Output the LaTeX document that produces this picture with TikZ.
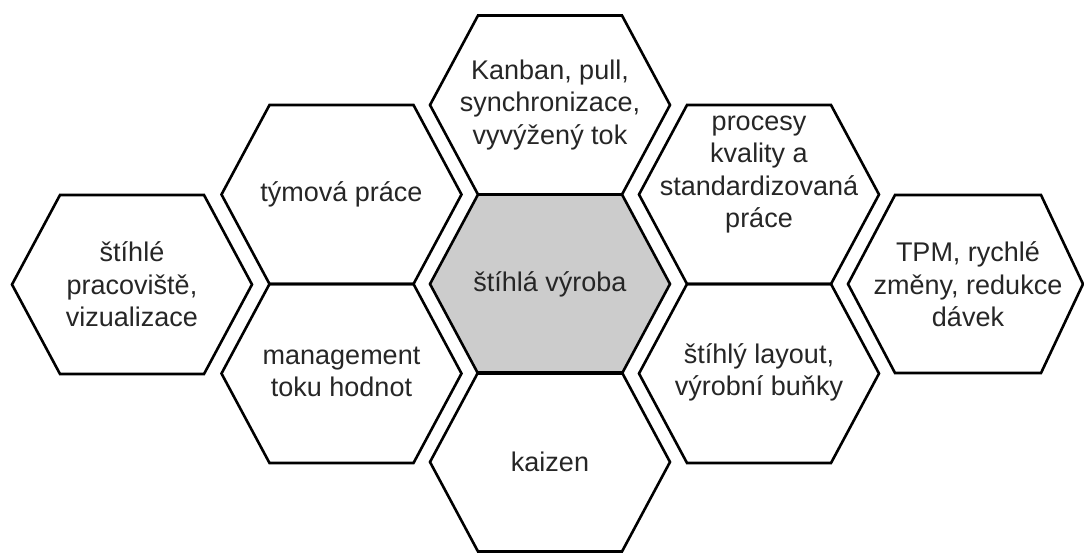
\documentclass[tikz,border=0pt]{standalone}
\usepackage{fontspec}
\setmainfont{Liberation Sans}
\definecolor{hexgray}{HTML}{CCCCCC}
\definecolor{txtcol}{HTML}{262626}
\tikzset{
  hexline/.style={draw=black, line width=2.6pt, line join=miter},
  hexfill/.style={},
  pics/hex/.style={code={
    \path[hexline, hexfill] (-120,0) -- (-72,-89.5) -- (72,-89.5) -- (120,0) -- (72,89.5) -- (-72,89.5) -- cycle;
  }},
  lbl/.style={align=center, font=\fontsize{27}{32.5}\selectfont, text=txtcol, inner sep=0pt},
}
\begin{document}
\begin{tikzpicture}[x=1pt,y=-1pt]
\fill[white] (0,0) rectangle (1084,552);
\useasboundingbox (0,0) rectangle (1084,552);
% hexagons
\pic (hleft) at (132,284.5) {hex};
\pic (hteam) at (341.5,194.5) {hex};
\pic (hmgmt) at (341.5,373.5) {hex};
\pic[hexfill/.style={fill=hexgray}] (hcenter) at (550,284) {hex};
\pic (hkanban) at (550,105) {hex};
\pic (hkaizen) at (550,462) {hex};
\pic (hproc) at (759,194.5) {hex};
\pic (hlayout) at (759,373.5) {hex};
\path[hexline] (848,284) -- (895,195) -- (1041,195) -- (1083,284) -- (1041,373) -- (895,373) -- cycle;
% labels
\node[lbl] (left) at (132,284.5) {štíhlé\\pracoviště,\\vizualizace};
\node[lbl] (team) at (341.5,194) {týmová práce};
\node[lbl] (mgmt) at (341.5,372) {management\\toku hodnot};
\node[lbl] (center) at (550,284) {štíhlá výroba};
\node[lbl] (kanban) at (550,105) {Kanban, pull,\\synchronizace,\\vyvýžený tok};
\node[lbl] (kaizen) at (550,462) {kaizen};
\node[lbl] (proc) at (759,174.5) {procesy\\kvality a\\standardizovaná\\práce};
\node[lbl] (layout) at (759,372.5) {štíhlý layout,\\výrobní buňky};
\node[lbl] (tpm) at (968,284.5) {TPM, rychlé\\změny, redukce\\dávek};
\end{tikzpicture}
\end{document}
